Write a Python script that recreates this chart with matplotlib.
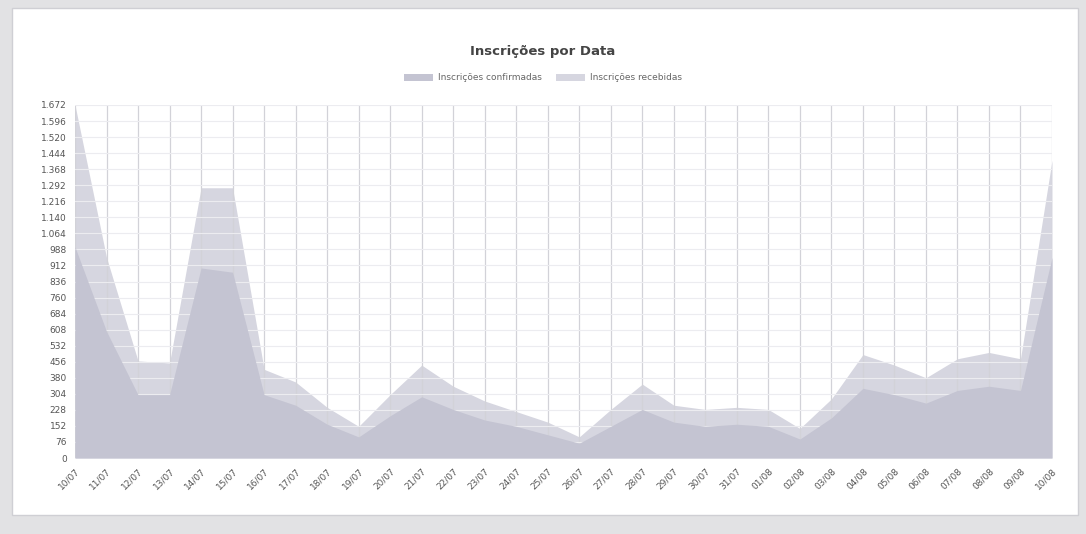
import matplotlib
matplotlib.use("Agg")
import matplotlib.pyplot as plt
from matplotlib.patches import Patch, Rectangle
import numpy as np

dates = ["10/07", "11/07", "12/07", "13/07", "14/07", "15/07", "16/07", "17/07",
         "18/07", "19/07", "20/07", "21/07", "22/07", "23/07", "24/07", "25/07",
         "26/07", "27/07", "28/07", "29/07", "30/07", "31/07", "01/08", "02/08",
         "03/08", "04/08", "05/08", "06/08", "07/08", "08/08", "09/08", "10/08"]

recebidas = [1672, 950, 460, 450, 1280, 1280, 420, 360,
             240, 150, 300, 440, 340, 270, 220, 170,
             100, 230, 350, 250, 230, 240, 230, 140,
             280, 490, 440, 380, 470, 500, 470, 1410]

confirmadas = [1000, 600, 300, 300, 900, 880, 300, 250,
               160, 100, 200, 290, 230, 180, 150, 110,
               70, 150, 230, 170, 150, 160, 150, 90,
               190, 330, 300, 260, 320, 340, 320, 950]

yticks = [0, 76, 152, 228, 304, 380, 456, 532, 608, 684, 760, 836, 912, 988,
          1064, 1140, 1216, 1292, 1368, 1444, 1520, 1596, 1672]
ytick_labels = ["0", "76", "152", "228", "304", "380", "456", "532", "608", "684",
                "760", "836", "912", "988", "1.064", "1.140", "1.216", "1.292",
                "1.368", "1.444", "1.520", "1.596", "1.672"]

title = "Inscrições por Data"
labels = ["Inscrições confirmadas", "Inscrições recebidas"]
col_conf = "#c4c4d2"
col_rec = "#d6d6e0"

fig = plt.figure(figsize=(10.86, 5.34), dpi=100)
fig.patch.set_facecolor("#e2e2e4")
panel = Rectangle((12 / 1086, 1 - 515 / 534), (1078 - 12) / 1086, (515 - 8) / 534,
                  transform=fig.transFigure, facecolor="white",
                  edgecolor="#cfcfd4", linewidth=1.0, zorder=-10)
fig.add_artist(panel)

ax = fig.add_axes([75 / 1086, 1 - 458 / 534, (1052 - 75) / 1086, (458 - 105) / 534])
ax.set_zorder(5)
ax.set_facecolor("white")
x = np.arange(len(dates))

ax.fill_between(x, 0, recebidas, color=col_rec, linewidth=0, zorder=2)
ax.fill_between(x, 0, confirmadas, color=col_conf, linewidth=0, zorder=3)

ax.set_xlim(0, len(dates) - 1)
ax.set_ylim(0, 1672)
ax.set_yticks(yticks)
ax.set_yticklabels(ytick_labels, fontsize=6.5, color="#555555")
ax.set_xticks(x)
ax.set_xticklabels(dates, rotation=45, ha="right", rotation_mode="anchor",
                   fontsize=6.5, color="#555555")
ax.tick_params(axis="both", length=0, pad=6)

ax.grid(axis="x", color="#d2d2d8", linewidth=0.9, zorder=4)
ax.grid(axis="y", color="#ececf0", linewidth=0.8, zorder=1)
ax.set_axisbelow(False)
for s in ax.spines.values():
    s.set_visible(False)

fig.text(0.5, 1 - 52 / 534, title, ha="center", va="center",
         fontsize=9.5, fontweight="bold", color="#444444", zorder=6)

handles = [Patch(facecolor=col_conf, edgecolor="none"),
           Patch(facecolor=col_rec, edgecolor="none")]
leg = fig.legend(handles, labels, loc="center", bbox_to_anchor=(0.5, 1 - 78 / 534),
                 ncol=2, frameon=False, fontsize=6.5, handlelength=3.2, handleheight=0.9,
                 columnspacing=1.5, handletextpad=0.6, labelcolor="#666666")
leg.set_zorder(6)

fig.savefig("out.png", dpi=100, facecolor=fig.get_facecolor())
